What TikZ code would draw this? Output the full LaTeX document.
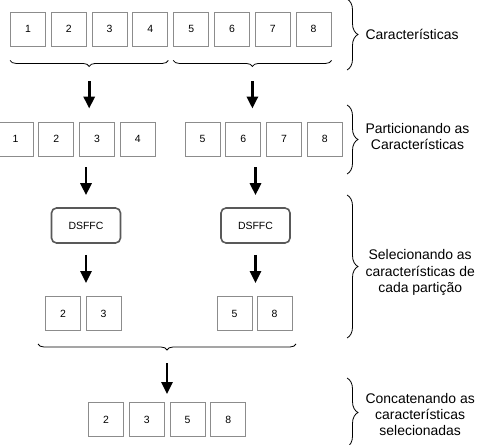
\documentclass[tikz,border=0pt]{standalone}
\usepackage{fontspec}
\setmainfont{Liberation Sans}
\usetikzlibrary{arrows.meta,decorations.pathreplacing}
\begin{document}
\begin{tikzpicture}[x=1bp,y=-1bp]
    \tikzset{cell/.style={draw=black!45,line width=0.9bp,minimum width=35bp,minimum height=34bp,inner sep=0pt,font=\fontsize{10.5}{12}\selectfont}};
    \tikzset{method/.style={draw=black!65,line width=1.6bp,rounded corners=5bp,minimum width=69bp,minimum height=35bp,font=\fontsize{10.5}{12}\selectfont}};
    \tikzset{flow/.style={line width=2.9bp,-{Triangle[width=11bp,length=12bp]}}};
    \tikzset{lowbrace/.style={decorate,decoration={brace,mirror,amplitude=6bp},line width=0.8bp}};
    \tikzset{sidebrace/.style={decorate,decoration={brace,amplitude=11bp},line width=0.8bp}};
    \tikzset{caption/.style={right,xshift=4bp,align=center,font=\fontsize{14}{16.5}\selectfont}};
    \useasboundingbox (0,0) rectangle (478,445);
    % todas as caracteristicas
    \foreach \i in {1,...,8}
        \node[cell] (a\i) at ({28+40.8*(\i-1)},29) {\i};
    % particoes
    \foreach \i in {1,...,4}
        \node[cell] (b\i) at ({15.5+40.8*(\i-1)},139) {\i};
    \foreach \i in {5,...,8}
        \node[cell] (b\i) at ({202.5+40.8*(\i-5)},139) {\i};
    \node[method] (d1) at (86,225.5) {DSFFC};
    \node[method] (d2) at (255.5,225.5) {DSFFC};
    % selecionadas por particao
    \node[cell] (c2) at (63,313.5) {2};
    \node[cell] (c3) at (103.5,313.5) {3};
    \node[cell] (c5) at (234.5,313.5) {5};
    \node[cell] (c8) at (274.5,313.5) {8};
    % concatenadas
    \foreach \v [count=\k] in {2,3,5,8}
        \node[cell] (e\v) at ({106+40.8*(\k-1)},419.5) {\v};
    % chaves de baixo
    \draw[lowbrace] ([yshift=-14bp]a1.south west) -- ([yshift=-14bp]a4.south east) coordinate[midway,yshift=-6bp] (t1);
    \draw[lowbrace] ([yshift=-14bp]a5.south west) -- ([yshift=-14bp]a8.south east) coordinate[midway,yshift=-6bp] (t2);
    \coordinate (g1) at (38,344);
    \coordinate (g2) at (296,344);
    \draw[lowbrace] (g1) -- (g2) coordinate[midway,yshift=-6bp] (t3);
    % setas
    \draw[flow,shorten <=15bp,shorten >=13bp] (t1) -- (t1 |- b1.north);
    \draw[flow,shorten <=15bp,shorten >=13bp] (t2) -- (t2 |- b5.north);
    \draw[flow,shorten <=11bp,shorten >=12bp] (d1.north |- b1.south) -- (d1.north);
    \draw[flow,shorten <=11bp,shorten >=12bp] (d2.north |- b5.south) -- (d2.north);
    \draw[flow,shorten <=11bp,shorten >=13bp] (d1.south) -- (d1.south |- c2.north);
    \draw[flow,shorten <=11bp,shorten >=13bp] (d2.south) -- (d2.south |- c5.north);
    \draw[flow,shorten <=13bp,shorten >=8bp] (t3) -- (t3 |- e2.north);
    % chaves laterais
    \draw[sidebrace] (347,-1) -- (347,70) coordinate[midway,xshift=11bp] (r1);
    \draw[sidebrace] (347,105) -- (347,174) coordinate[midway,xshift=11bp] (r2);
    \draw[sidebrace] (347,195) -- (347,338) coordinate[midway,xshift=11bp] (r3);
    \draw[sidebrace] (347,378) -- (347,447) coordinate[midway,xshift=11bp] (r4);
    \node[caption] (l1) at (r1) {Características};
    \node[caption] (l2) at ([yshift=3bp]r2) {Particionando as\\Características};
    \node[caption] (l3) at ([yshift=-6bp]r3) {Selecionando as\\características de\\cada partição};
    \node[caption] (l4) at ([yshift=-2bp]r4) {Concatenando as\\características\\selecionadas};
\end{tikzpicture}
\end{document}
